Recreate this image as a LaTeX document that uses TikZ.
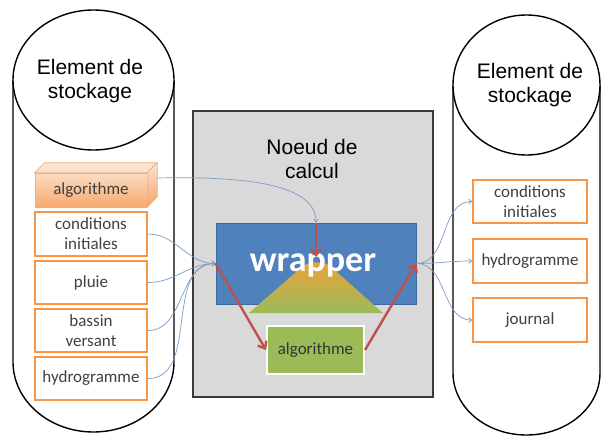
\documentclass[tikz,border=0pt]{standalone}
\usepackage{fontspec}
\newfontfamily\boxfont{Carlito}
\newfontfamily\titlefont{Liberation Sans}
\usetikzlibrary{arrows.meta}
\definecolor{boxor}{HTML}{F79646}
\definecolor{txtg}{HTML}{404040}
\definecolor{connb}{HTML}{7A9CC6}
\definecolor{redc}{HTML}{C0504D}
\definecolor{grayf}{HTML}{D9D9D9}
\definecolor{grayb}{HTML}{3A3A3A}
\definecolor{bluef}{HTML}{4F81BD}
\definecolor{bluedark}{HTML}{3C6A9E}
\definecolor{trapor}{HTML}{EBA239}
\definecolor{trapgr}{HTML}{9BBB59}
\definecolor{greenf}{HTML}{9BBB59}
\definecolor{peachA}{HTML}{FBDCC2}
\definecolor{peachB}{HTML}{F7A96E}
\definecolor{peachtop}{HTML}{FCE3CF}
\definecolor{peachside}{HTML}{F4A468}
\definecolor{orl}{HTML}{F2B07E}
\begin{document}
\begin{tikzpicture}[x=1pt,y=-1pt,
  stor/.style={draw=black, line width=1.4pt, fill=white},
  obox/.style={draw=boxor, line width=1.8pt, fill=white, minimum width=112pt, inner sep=0pt, align=center, font=\boxfont\fontsize{17}{20}\selectfont, text=txtg},
  conn/.style={draw=connb, line width=0.7pt, -{Straight Barb[length=3pt,width=5pt]}},
  redar/.style={draw=redc, line width=2.4pt, -{Straight Barb[length=6pt,width=10pt]}},
  title/.style={font=\titlefont\fontsize{21}{24}\selectfont, align=center}
]
\useasboundingbox (0,0) rectangle (602,436);
% storage cylinders
\draw[stor] (13,80) -- (13,362) arc[start angle=180,end angle=360,x radius=80.5pt,y radius=70pt] -- (174,80);
\draw[stor] (93.5,80) ellipse[x radius=80.5pt, y radius=70pt];
\draw[stor] (453,85) -- (453,373) arc[start angle=180,end angle=360,x radius=73.5pt,y radius=62pt] -- (600,85);
\draw[stor] (526.5,85) ellipse[x radius=73.5pt, y radius=70pt];
\node[title] (t1) at (90,81) {Element de\\stockage};
\node[title] (t2) at (530,85) {Element de\\stockage};
% compute node
\node[draw=grayb, line width=1.5pt, fill=grayf, minimum width=240pt, minimum height=286pt] (calc) at (313,254) {};
\node[title] (t3) at (312,159) {Noeud de\\calcul};
\node[draw=bluedark, line width=0.8pt, fill=bluef, minimum width=200pt, minimum height=81pt] (wr) at (316,263.5) {};
\shade[top color=trapor, bottom color=trapgr] (249,313) -- (303,266) .. controls (310,261) and (323,261) .. (330,266) -- (383,313) -- cycle;
\node[text=white, font=\boxfont\bfseries\fontsize{36}{40}\selectfont] (wt) at (313,265) {wrapper};
\node[draw=white, line width=2pt, fill=greenf, minimum width=97pt, minimum height=48pt, font=\boxfont\fontsize{17}{20}\selectfont, text=black!80] (alg) at (315.5,350) {algorithme};
% left boxes
\node[draw=orl, line width=0.6pt, top color=peachA, bottom color=peachB, minimum width=112pt, minimum height=34pt, inner sep=0pt, font=\boxfont\fontsize{17}{20}\selectfont, text=txtg] (la) at (91,190) {algorithme};
\draw[draw=orl, line width=0.6pt, fill=peachtop] (la.north west) -- ++(10,-10) -- ++(112,0) -- (la.north east) -- cycle;
\draw[draw=orl, line width=0.6pt, top color=peachtop, bottom color=peachside] (la.north east) -- ++(10,-10) -- ++(0,34) -- (la.south east) -- cycle;
\node[obox, minimum height=44pt] (lci) at (91,234) {conditions\\initiales};
\node[obox, minimum height=43pt] (lpl) at (91,282.5) {pluie};
\node[obox, minimum height=43pt] (lbv) at (91,330.5) {bassin\\versant};
\node[obox, minimum height=43pt] (lhy) at (91,378.5) {hydrogramme};
% right boxes
\node[obox, minimum width=114pt, minimum height=43pt] (rci) at (530,201.5) {conditions\\initiales};
\node[obox, minimum width=114pt, minimum height=44pt] (rhy) at (530,261) {hydrogramme};
\node[obox, minimum width=114pt, minimum height=44pt] (rjo) at (530,320) {journal};
% blue connectors
\coordinate (a3) at (157,178);
\draw[conn] (a3) .. controls (250,176) and (316,185) .. (wr.north);
\draw[conn] (lci.east) to[out=0,in=180] (wr.west);
\draw[conn] (lpl.east) to[out=0,in=180] (wr.west);
\draw[conn] (lbv.east) to[out=0,in=180] (wr.west);
\draw[conn] (lhy.east) to[out=0,in=180] (wr.west);
\draw[conn] (wr.east) to[out=0,in=180] (rci.west);
\draw[conn] (wr.east) to[out=0,in=180] (rhy.west);
\draw[conn] (wr.east) to[out=0,in=180] (rjo.west);
% red arrows
\coordinate (wtip) at (316,257);
\draw[redar] (wr.north) -- (wtip);
\draw[redar] (wr.west) -- (alg.west);
\draw[redar] (alg.east) -- (wr.east);
\end{tikzpicture}
\end{document}
